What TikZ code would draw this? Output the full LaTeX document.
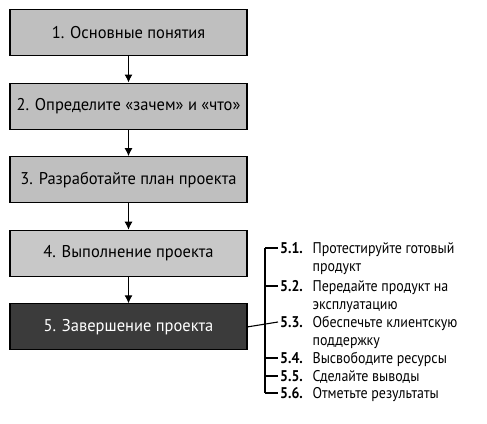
\documentclass[tikz,border=0pt]{standalone}
\usepackage{fontspec}
\setmainfont{PT Sans}[FakeStretch=0.9]
\newfontfamily\boxfont{PT Sans}[FakeStretch=0.97]
\usepackage{tikz}
\usetikzlibrary{arrows.meta,positioning}
\tikzstyle{stage}=[draw,line width=1.1pt,fill=gray!50,minimum width=237pt,minimum height=46pt,font=\boxfont\fontsize{17}{20}\selectfont]
\tikzstyle{num}=[anchor=west,text width=28pt,inner xsep=2pt,inner ysep=0pt,font=\fontsize{15.5}{18}\selectfont\bfseries]
\tikzstyle{task}=[anchor=north west,align=left,inner xsep=2pt,inner ysep=0pt,font=\fontsize{15.5}{18}\selectfont]

\begin{document}
\begin{tikzpicture}[x=1pt,y=1pt,>={Latex[length=8pt,width=8pt]}]
    \useasboundingbox (0,0) rectangle (487,423);
    \node[stage] (s1) at (128.5,390.5) {1. Основные понятия};
    \node[stage,below=26.5pt of s1] (s2) {2. Определите «зачем» и «что»};
    \node[stage,below=26.5pt of s2] (s3) {3. Разработайте план проекта};
    \node[stage,fill=gray!43,below=26.5pt of s3] (s4) {4. Выполнение проекта};
    \node[stage,fill=black!77,text=white,below=26.5pt of s4] (s5) {5. Завершение проекта};
    \foreach \a/\b in {s1/s2,s2/s3,s3/s4,s4/s5}
      \draw[line width=1.1pt,->] (\a) -- (\b);
    % sub-steps of stage 5
    \node[num] (n1) at (278,175) {5.1.};
    \node[num] (n2) at (278,137) {5.2.};
    \node[num] (n3) at (278,101) {5.3.};
    \node[num] (n4) at (278,65) {5.4.};
    \node[num] (n5) at (278,47) {5.5.};
    \node[num] (n6) at (278,30) {5.6.};
    \node[task] (t1) at (n1.north east) {Протестируйте готовый\\продукт};
    \node[task] (t2) at (n2.north east) {Передайте продукт на\\эксплуатацию};
    \node[task] (t3) at (n3.north east) {Обеспечьте клиентскую\\поддержку};
    \node[task] (t4) at (n4.north east) {Высвободите ресурсы};
    \node[task] (t5) at (n5.north east) {Сделайте выводы};
    \node[task] (t6) at (n6.north east) {Отметьте результаты};
    \coordinate (br) at (265,0);
    \draw[line width=1.1pt] (n1.west -| br) -- (n6.west -| br);
    \draw[line width=1.1pt] (s5.east) -- (n3.west);
    \foreach \n in {n1,n2,n4,n5,n6}
      \draw[line width=1.1pt] (\n.west -| br) -- (\n.west);
\end{tikzpicture}
\end{document}
